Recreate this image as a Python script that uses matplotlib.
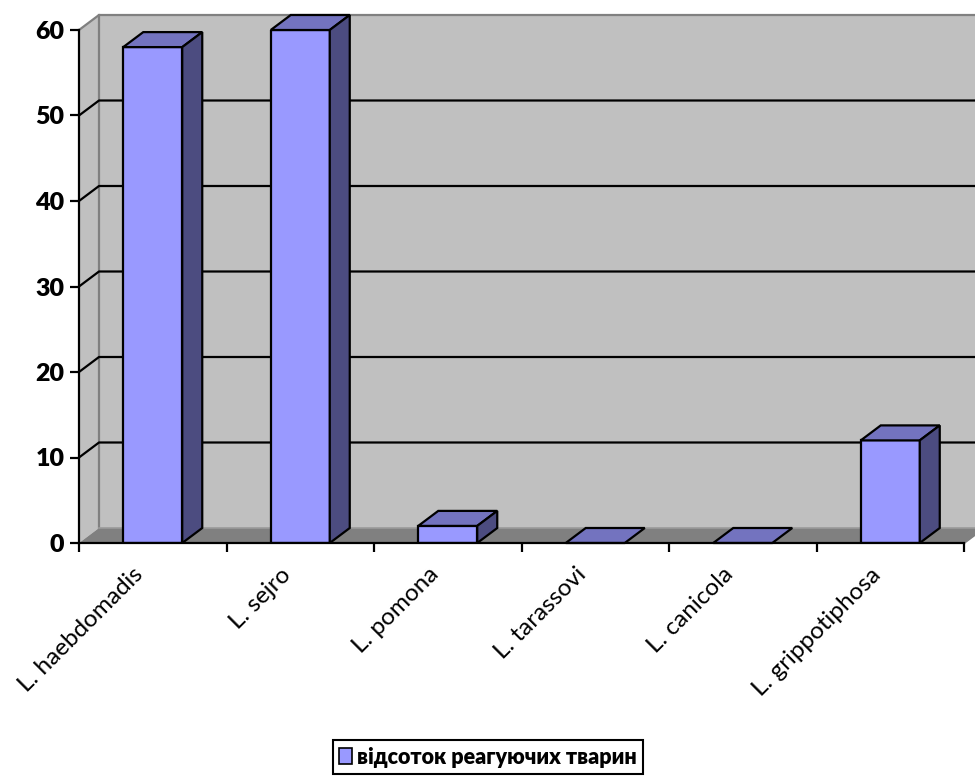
import matplotlib
matplotlib.use("Agg")
import matplotlib.pyplot as plt
from matplotlib.patches import Polygon, Patch
from matplotlib.transforms import ScaledTranslation

plt.rcParams['font.family'] = ['Lato', 'DejaVu Sans']

categories = ["L. haebdomadis", "L. sejro", "L. pomona", "L. tarassovi",
              "L. canicola", "L. grippotiphosa"]
values = [58, 60, 2, 0, 0, 12]
yticks = [0, 10, 20, 30, 40, 50, 60]
series_name = "відсоток реагуючих тварин"

front = "#9999FF"
top_c = "#7373BF"
side_c = "#4C4C80"
wall = "#C0C0C0"
floor = "#808080"

fig = plt.figure(figsize=(9.75, 7.78), dpi=100)
ax = fig.add_axes([79 / 975, 235 / 778, 885 / 975, 513 / 778])
n = len(categories)
ymax = 60
dx = 20 / 147.5          # depth offset in category units
dy = 15 / 8.55           # depth offset in value units
ax.set_xlim(0, n)
ax.set_ylim(0, ymax)
ax.patch.set_visible(False)

# walls and floor
ax.add_patch(Polygon([(0, 0), (dx, dy), (dx, ymax + dy), (0, ymax)],
                     closed=True, facecolor=wall, edgecolor="none", zorder=0, clip_on=False))
ax.add_patch(Polygon([(dx, dy), (n + dx + 1, dy), (n + dx + 1, ymax + dy), (dx, ymax + dy)],
                     closed=True, facecolor=wall, edgecolor="none", zorder=0, clip_on=False))
ax.add_patch(Polygon([(0, 0), (n, 0), (n + dx, dy), (dx, dy)],
                     closed=True, facecolor=floor, edgecolor="none", zorder=0.5, clip_on=False))
edge_kw = dict(color="#808080", lw=1.6, zorder=0.8, clip_on=False)
ax.plot([dx, dx], [dy, ymax + dy], **edge_kw)
ax.plot([0, dx, n + dx + 1], [ymax, ymax + dy, ymax + dy], **edge_kw)
ax.plot([dx, n + dx + 1], [dy, dy], color="#9a9a9a", lw=1.2, zorder=0.8, clip_on=False)
ax.plot([n, n + dx], [0, dy], **edge_kw)

# gridlines on side and back wall
for v in yticks[1:-1]:
    ax.plot([0, dx, n + dx + 1], [v, v + dy, v + dy], color="black", lw=1.6,
            zorder=1, clip_on=False)

# bars
xs = [i + 0.5 for i in range(n)]
w = 0.4
ax.bar(xs, values, width=w, color=front, edgecolor="black", linewidth=1.6, zorder=3)
for x, v in zip(xs, values):
    l, r = x - w / 2, x + w / 2
    ax.add_patch(Polygon([(l, v), (r, v), (r + dx, v + dy), (l + dx, v + dy)], closed=True,
                         facecolor=top_c, edgecolor="black", lw=1.6, zorder=3, clip_on=False))
    if v > 0:
        ax.add_patch(Polygon([(r, 0), (r + dx, dy), (r + dx, v + dy), (r, v)], closed=True,
                             facecolor=side_c, edgecolor="black", lw=1.6, zorder=3, clip_on=False))

# axes
for s in ["top", "right"]:
    ax.spines[s].set_visible(False)
for s in ["left", "bottom"]:
    ax.spines[s].set_linewidth(1.6)
    ax.spines[s].set_zorder(4)
ax.set_yticks(yticks)
ax.set_yticklabels([str(t) for t in yticks], fontsize=18, fontweight="heavy")
ax.set_xticks(range(n + 1))
ax.set_xticklabels([])
ax.set_xticks(xs, minor=True)
ax.set_xticklabels(categories, minor=True, rotation=45, ha="right", va="top",
                   rotation_mode="anchor", fontsize=17.5)
ax.tick_params(axis="y", direction="out", length=6.5, width=1.6, pad=4)
ax.tick_params(axis="x", which="major", direction="out", length=6.5, width=1.6)
ax.tick_params(axis="x", which="minor", length=0, pad=15)
shift = ScaledTranslation(-20 / 100, 0, fig.dpi_scale_trans)
for lab in ax.get_xticklabels(minor=True):
    lab.set_transform(lab.get_transform() + shift)

handle = Patch(facecolor=front, edgecolor="black", linewidth=1.2)
leg = fig.legend([handle], [series_name], loc="center", bbox_to_anchor=(488 / 975, 21 / 778),
                 prop={"size": 15.5, "weight": "heavy"}, fancybox=False, edgecolor="black",
                 framealpha=1, handlelength=0.6, handleheight=0.8, handletextpad=0.25,
                 borderpad=0.3, borderaxespad=0)
leg.get_frame().set_linewidth(1.5)

fig.savefig("out.png", dpi=100)
